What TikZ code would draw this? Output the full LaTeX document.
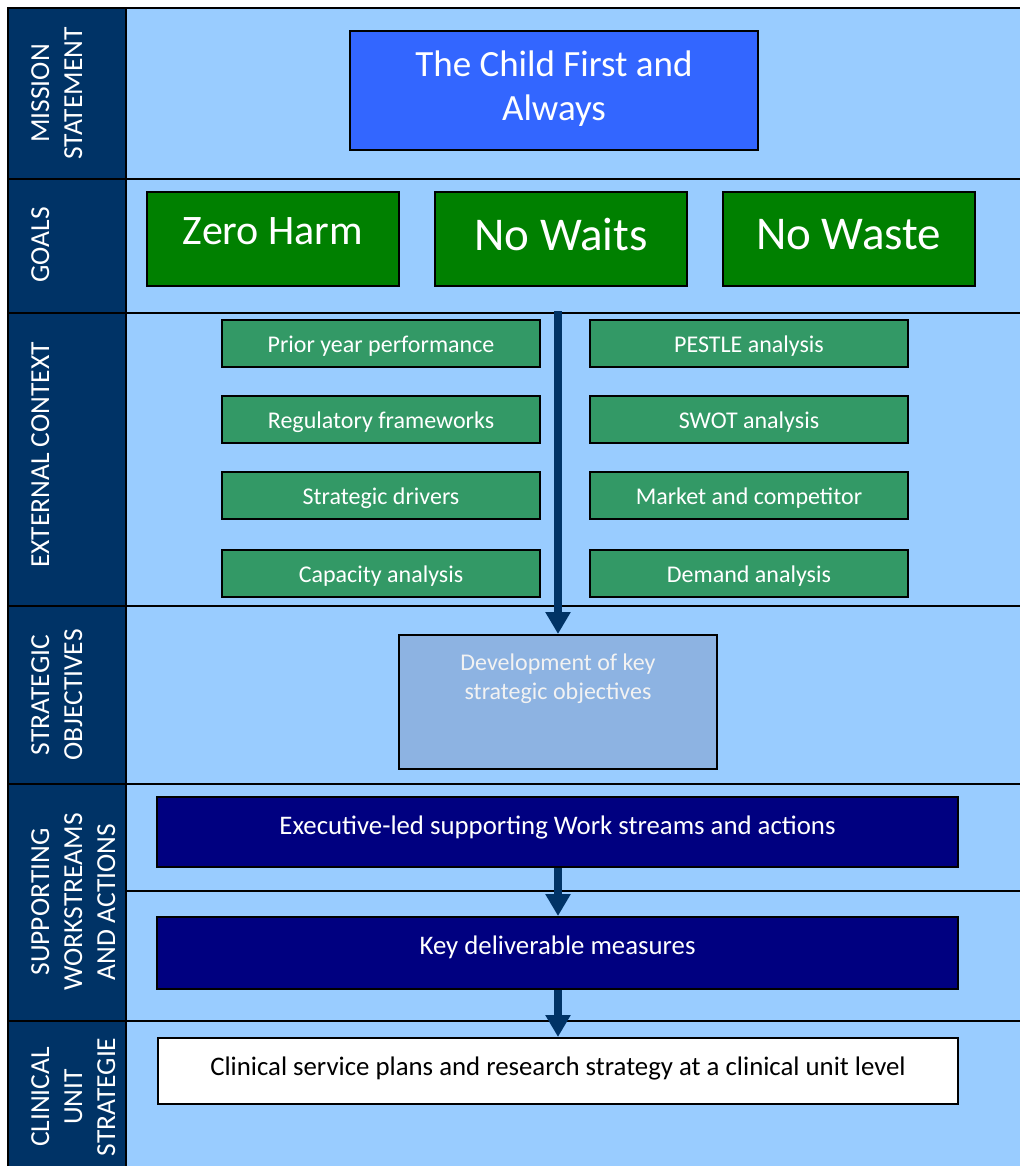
\documentclass[tikz,border=0pt]{standalone}
\usepackage{fontspec}
\setmainfont{Carlito}
\usetikzlibrary{arrows.meta}
\definecolor{navycol}{HTML}{003366}
\definecolor{lightbg}{HTML}{99CCFF}
\definecolor{missionblue}{HTML}{3366FF}
\definecolor{goalgreen}{HTML}{008000}
\definecolor{ctxgreen}{HTML}{339966}
\definecolor{objblue}{HTML}{8DB3E2}
\definecolor{deepnavy}{HTML}{000080}
\definecolor{objtext}{HTML}{F2F2F2}
\tikzset{
  rule/.style={draw=black, line width=2.5pt},
  sidelabel/.style={rotate=90, anchor=north, inner sep=0pt, text=white, align=center,
    font=\fontsize{27.5}{33}\selectfont},
  boxbase/.style={draw=black, line width=2pt, inner sep=0pt},
  missionbox/.style={boxbase, fill=missionblue, minimum width=408pt, minimum height=119pt},
  goalbox/.style={boxbase, fill=goalgreen, minimum width=252pt, minimum height=94pt},
  ctxbox/.style={boxbase, fill=ctxgreen, minimum width=318pt, minimum height=47pt},
  ctxtext/.style={yshift=-3pt, text=white, inner sep=0pt, font=\fontsize{24}{29}\selectfont},
  objbox/.style={boxbase, fill=objblue, minimum width=318pt, minimum height=134pt},
  workbox/.style={boxbase, fill=deepnavy, minimum width=801pt, minimum height=70pt},
  clinbox/.style={boxbase, fill=white, minimum width=800pt, minimum height=66pt},
  boxtext/.style={font=\fontsize{24}{29}\selectfont, inner sep=0pt},
  worktext/.style={inner sep=0pt, font=\fontsize{26.8}{32}\selectfont},
  flow/.style={draw=navycol, line width=8pt, -{Triangle[width=24pt,length=22pt]}}
}
\begin{document}
\begin{tikzpicture}[x=1pt,y=-1pt]
\useasboundingbox (0,0) rectangle (1020,1166);
% background bands
\fill[lightbg] (8,8) rectangle (1020,1166);
\fill[navycol] (8,8) rectangle (126,1166);
\draw[rule] (8,1166) -- (8,8) -- (1020,8);
\foreach \yy in {179,313,606,784,1021} \draw[rule] (8,\yy) -- (1020,\yy);
\draw[rule] (126,891) -- (1020,891);
\draw[rule] (126,8) -- (126,1166);

% side labels
\node[sidelabel] (lmission) at (31,93.5) {MISSION\\STATEMENT};
\node[sidelabel] (lgoals) at (31,245) {GOALS};
\node[sidelabel] (lcontext) at (31,455) {EXTERNAL CONTEXT};
\node[sidelabel] (lobj) at (31,695) {STRATEGIC\\OBJECTIVES};
\node[sidelabel] (lsupport) at (31,902) {SUPPORTING\\WORKSTREAMS\\AND ACTIONS};
\node[sidelabel] (lclinical) at (31,1097) {CLINICAL\\UNIT\\STRATEGIE};

% mission
\node[missionbox, label={[yshift=2pt, text=white, align=center, inner sep=0pt,
  font=\fontsize{37}{44}\selectfont]center:The Child First and\\Always}] (mission) at (554,90.5) {};

% goals
\node[goalbox, label={[yshift=8pt, text=white, inner sep=0pt, font=\fontsize{42}{50}\selectfont]center:Zero Harm}] (zeroharm) at (273,239) {};
\node[goalbox, label={[yshift=4pt, text=white, inner sep=0pt, font=\fontsize{47}{56}\selectfont]center:No Waits}] (nowaits) at (561,239) {};
\node[goalbox, label={[yshift=4pt, text=white, inner sep=0pt, font=\fontsize{47}{56}\selectfont]center:No Waste}] (nowaste) at (848.5,239) {};

% external context
\node[ctxbox, label={[ctxtext]center:Prior year performance}] (prior) at (381,343.5) {};
\node[ctxbox, label={[ctxtext]center:Regulatory frameworks}] (regul) at (381,419.5) {};
\node[ctxbox, label={[ctxtext]center:Strategic drivers}] (drivers) at (381,495.5) {};
\node[ctxbox, label={[ctxtext]center:Capacity analysis}] (capacity) at (381,573.5) {};
\node[ctxbox, label={[ctxtext]center:PESTLE analysis}] (pestle) at (749,343.5) {};
\node[ctxbox, label={[ctxtext]center:SWOT analysis}] (swot) at (749,419.5) {};
\node[ctxbox, label={[ctxtext]center:Market and competitor}] (market) at (749,495.5) {};
\node[ctxbox, label={[ctxtext]center:Demand analysis}] (demand) at (749,573.5) {};

% strategic objectives
\node[objbox] (obj) at (558,702) {};
\node[boxtext, text=objtext, align=center, anchor=north] (objlabel) at (558,654)
  {Development of key\\strategic objectives};

% workstreams
\node[workbox, label={[worktext, yshift=5pt, text=white]center:Executive-led supporting Work streams and actions}] (exec) at (557.5,832) {};
\node[workbox, minimum height=72pt, label={[worktext, yshift=6pt, text=white]center:Key deliverable measures}] (deliv) at (557.5,953) {};

% clinical
\node[clinbox, label={[worktext, yshift=3pt, text=black]center:Clinical service plans and research strategy at a clinical unit level}] (clin) at (558,1071) {};

% arrows
\coordinate (flowstart) at (558,311);
\draw[flow] (flowstart) -- (obj.north);
\draw[flow] ([xshift=0.5pt]exec.south) -- ([xshift=0.5pt]deliv.north);
\draw[flow] ([xshift=0.5pt]deliv.south) -- (clin.north);
\end{tikzpicture}
\end{document}
